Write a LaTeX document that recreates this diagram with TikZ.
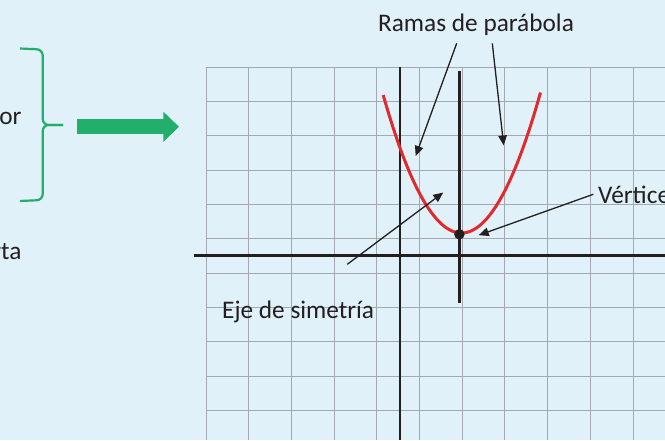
\documentclass[tikz,border=0pt]{standalone}
\usepackage{fontspec}
\setmainfont{Carlito}
\usepackage{tikz}
\usetikzlibrary{arrows.meta}
\definecolor{fondo}{HTML}{E0F1F9}
\definecolor{rejilla}{HTML}{A2A9B0}
\definecolor{tinta}{HTML}{231F20}
\definecolor{rojo}{HTML}{E02A2E}
\definecolor{verde}{HTML}{22AE6B}

\begin{document}
\begin{tikzpicture}[
  x=1pt,y=-1pt,
  lbl/.style={inner sep=0pt,text=tinta,font=\fontsize{25.3}{30}\selectfont},
  rejas/.style={draw=rejilla,line width=1pt},
  eje/.style={draw=tinta,line width=2.8pt},
  rama/.style={draw=rojo,line width=3pt},
  llave/.style={draw=verde,line width=2.2pt,rounded corners=6pt},
  a/.style={-{Triangle[length=10pt,width=8.5pt]},tinta,line width=1.3pt}
]
\useasboundingbox (0,0) rectangle (665,440);
\fill[fondo] (0,0) rectangle (665,440);

% cuadricula
\foreach \i in {0,...,10}
  \draw[rejas] ({206+42.7*\i},67) -- ({206+42.7*\i},440);
\foreach \j in {0,...,10}
  \draw[rejas] (206,{67+34.35*\j}) -- (665,{67+34.35*\j});

% ejes
\draw[eje] (194,255.7) -- (665,255.7);
\draw[eje] (400,67) -- (400,440);
\draw[eje] (459.4,71) -- (459.4,302.7);

% parabola y vertice
\draw[rama] plot[domain=-78.3:79,samples=80] ({461.5+\x},{233-0.0225*\x*\x});
\node[circle,fill=tinta,inner sep=0pt,minimum size=10.5pt] (vertex) at (459.4,234.3) {};

% llave y flecha verde
\draw[llave] (20,48.5) -- (42.7,49.5) -- (42.7,125) -- (63,125);
\draw[llave] (20,201) -- (42.7,200) -- (42.7,125) -- (63,125);
\coordinate (flechaIni) at (77.3,126.8);
\coordinate (flechaFin) at (179,126.8);
\draw[verde,line width=15pt,-{Triangle[length=15.7pt,width=29.4pt]}] (flechaIni) -- (flechaFin);

% textos
\node[lbl,anchor=base] (ramas) at (476,31) {Ramas de parábola};
\node[lbl,anchor=base west] (vertice) at (598,203) {Vértice};
\node[lbl,anchor=base west] (simetria) at (222,318) {Eje de simetría};
\node[lbl,anchor=base east] (llaveTxt) at (21.7,124.3) {or};
\node[lbl,anchor=base east] (notaTxt) at (21.7,259.5) {rta};

% flechas
\coordinate (ramaIzq) at (415.7,156);
\coordinate (ramaDer) at (503.7,145.5);
\coordinate (ejeTip) at (443.3,192.5);
\coordinate (verticeTip) at (478.7,235.2);
\draw[a] ([xshift=-19.3pt,yshift=-12.3pt]ramas.base) -- (ramaIzq);
\draw[a] ([xshift=16.3pt,yshift=-12.3pt]ramas.base) -- (ramaDer);
\draw[a] ([xshift=-4.7pt,yshift=8.7pt]vertice.base west) -- (verticeTip);
\draw[a] ([xshift=125.3pt,yshift=53.7pt]simetria.base west) -- (ejeTip);
\end{tikzpicture}
\end{document}
